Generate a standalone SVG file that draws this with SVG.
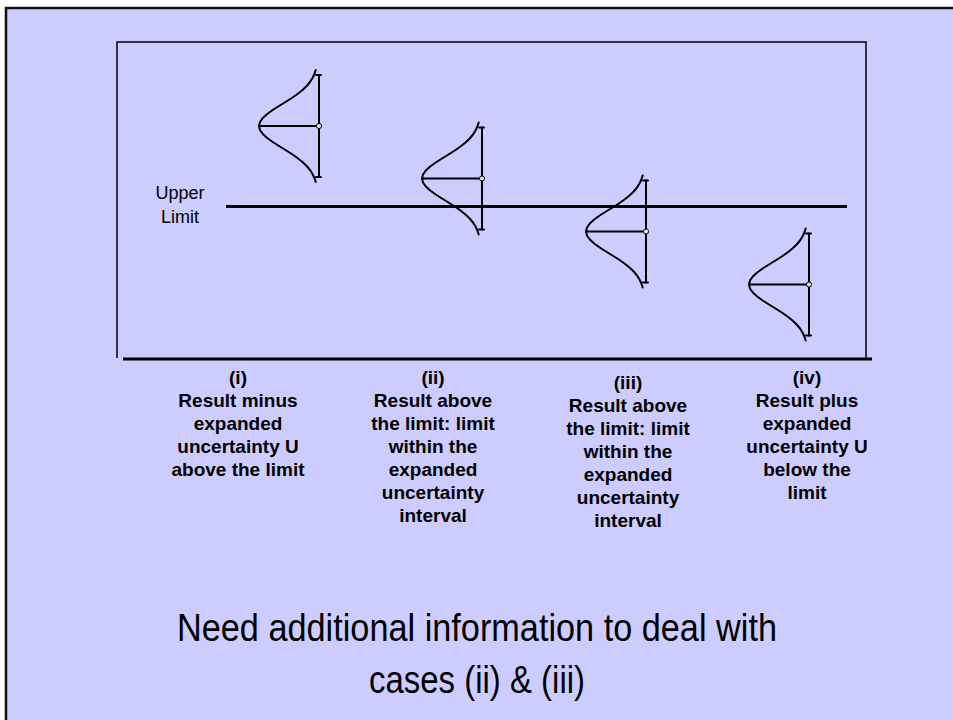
<svg xmlns="http://www.w3.org/2000/svg" xmlns:xlink="http://www.w3.org/1999/xlink" width="953" height="720" viewBox="0 0 953 720">
  <style>
    .frame { fill: #CCCCFF; stroke: none; }
    .edge { stroke: #111111; stroke-width: 2.5; fill: none; }
    .thin { stroke: #000000; stroke-width: 1.5; fill: none; }
    .thick { stroke: #000000; stroke-width: 3; fill: none; }
    .bell { stroke: #000000; stroke-width: 2; fill: none; stroke-linejoin: round; stroke-linecap: round; }
    .mean { fill: #CCEEDD; stroke: #000000; stroke-width: 1; }
    .lbl { font-family: "Liberation Sans", Arial, sans-serif; font-size: 19px; font-weight: bold; fill: #000000; text-anchor: middle; }
    .ul { font-family: "Liberation Sans", Arial, sans-serif; font-size: 18px; fill: #000000; text-anchor: middle; }
    .note { font-family: "Liberation Sans", Arial, sans-serif; font-size: 38px; fill: #000000; text-anchor: middle; }
  </style>
  <defs>
    <!-- Gaussian profile opening left, with its uncertainty bar and mean marker -->
    <g id="bellshape">
      <path class="bell" d="M-3.3,-56 L-4.6,-52 L-6.5,-48 L-9,-44 L-12.3,-40 L-16.5,-36 L-21.5,-32 L-27.2,-28 L-33.5,-24 L-40,-20 L-46.3,-16 L-51.8,-12 L-56.2,-8 L-59,-4 L-60,0 L-59,4 L-56.2,8 L-51.8,12 L-46.3,16 L-40,20 L-33.5,24 L-27.2,28 L-21.5,32 L-16.5,36 L-12.3,40 L-9,44 L-6.5,48 L-4.6,52 L-3.3,56"/>
      <line class="bell" x1="0" y1="-51" x2="0" y2="51"/>
      <line class="bell" x1="-3" y1="-51" x2="2" y2="-51"/>
      <line class="bell" x1="-3" y1="51" x2="2" y2="51"/>
      <line class="bell" x1="-60" y1="0" x2="0" y2="0"/>
      <circle class="mean" cx="0" cy="0" r="2.6"/>
    </g>
  </defs>

  <rect x="0" y="0" width="953" height="720" fill="#FFFFFF"/>
  <rect class="frame" x="6" y="8" width="947" height="712"/>
  <path class="edge" d="M6,720 L6,8 L953,8"/>

  <!-- plot area -->
  <g id="axes">
    <path class="thin" d="M117,358 L117,42 L866,42 L866,358"/>
    <line class="thick" x1="123" y1="359" x2="872" y2="359"/>
  </g>

  <g id="upper-limit">
    <line class="thick" x1="226" y1="206.5" x2="847" y2="206.5"/>
    <text class="ul" x="180" y="199">Upper</text>
    <text class="ul" x="180" y="223">Limit</text>
  </g>

  <g id="case-i">
    <use xlink:href="#bellshape" transform="translate(319,126)"/>
    <text class="lbl" x="238" y="384">(i)</text>
    <text class="lbl" x="238" y="407">Result minus</text>
    <text class="lbl" x="238" y="430">expanded</text>
    <text class="lbl" x="238" y="453">uncertainty U</text>
    <text class="lbl" x="238" y="476">above the limit</text>
  </g>

  <g id="case-ii">
    <use xlink:href="#bellshape" transform="translate(482,178.5)"/>
    <text class="lbl" x="433" y="384">(ii)</text>
    <text class="lbl" x="433" y="407">Result above</text>
    <text class="lbl" x="433" y="430">the limit: limit</text>
    <text class="lbl" x="433" y="453">within the</text>
    <text class="lbl" x="433" y="476">expanded</text>
    <text class="lbl" x="433" y="499">uncertainty</text>
    <text class="lbl" x="433" y="522">interval</text>
  </g>

  <g id="case-iii">
    <use xlink:href="#bellshape" transform="translate(646,231.5)"/>
    <text class="lbl" x="628" y="389">(iii)</text>
    <text class="lbl" x="628" y="412">Result above</text>
    <text class="lbl" x="628" y="435">the limit: limit</text>
    <text class="lbl" x="628" y="458">within the</text>
    <text class="lbl" x="628" y="481">expanded</text>
    <text class="lbl" x="628" y="504">uncertainty</text>
    <text class="lbl" x="628" y="527">interval</text>
  </g>

  <g id="case-iv">
    <use xlink:href="#bellshape" transform="translate(809,284.5)"/>
    <text class="lbl" x="807" y="384">(iv)</text>
    <text class="lbl" x="807" y="407">Result plus</text>
    <text class="lbl" x="807" y="430">expanded</text>
    <text class="lbl" x="807" y="453">uncertainty U</text>
    <text class="lbl" x="807" y="476">below the</text>
    <text class="lbl" x="807" y="499">limit</text>
  </g>

  <g id="conclusion">
    <text class="note" x="477" y="641" textLength="600" lengthAdjust="spacingAndGlyphs">Need additional information to deal with</text>
    <text class="note" x="477" y="693" textLength="216" lengthAdjust="spacingAndGlyphs">cases (ii) &amp; (iii)</text>
  </g>
</svg>
